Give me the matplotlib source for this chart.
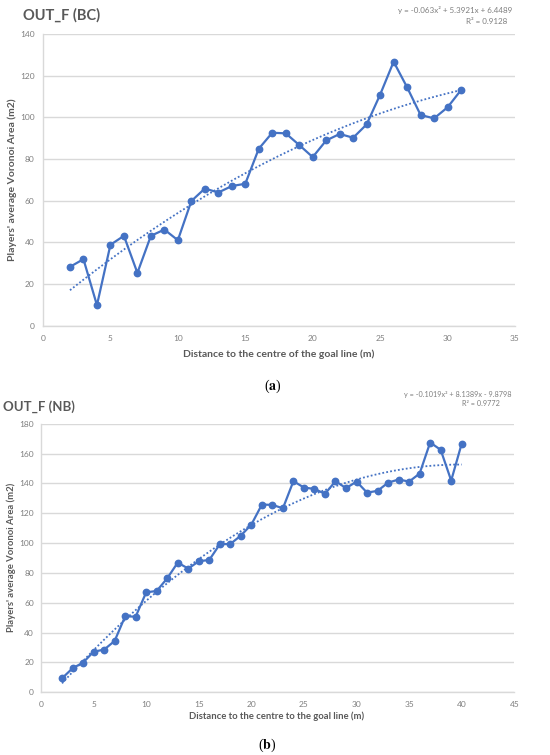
import matplotlib
matplotlib.use("Agg")
import matplotlib.pyplot as plt
import numpy as np

# ---- data ----
bc_x = list(range(2, 32))
bc_y = [28.2, 31.9, 9.8, 38.8, 43.1, 25.3, 43.1, 46.1, 41.0, 59.8,
        65.8, 63.9, 67.0, 68.1, 84.9, 92.6, 92.3, 86.7, 80.9, 88.9,
        92.0, 90.2, 96.6, 110.9, 126.7, 114.4, 101.1, 99.5, 104.8, 113.1]
bc_coef = [-0.063, 5.3921, 6.4489]
bc_eq = "y = -0.063x² + 5.3921x + 6.4489"
bc_r2 = "R² = 0.9128"

nb_x = list(range(2, 41))
nb_y = [9.4, 16.1, 19.9, 27.2, 28.6, 34.4, 50.9, 50.7, 67.0, 67.9,
        76.4, 86.9, 82.9, 87.8, 88.7, 99.2, 99.4, 105.0, 112.4, 125.8,
        125.6, 123.3, 141.5, 137.2, 136.3, 133.0, 141.5, 136.8, 141.2, 133.8,
        135.0, 140.5, 142.6, 141.2, 146.6, 167.4, 162.5, 141.9, 166.7]
nb_coef = [-0.1019, 8.1389, -9.8798]
nb_eq = "y = -0.1019x² + 8.1389x - 9.8798"
nb_r2 = "R² = 0.9772"

plt.rcParams['font.family'] = ['Lato', 'DejaVu Sans']

W, H = 550, 755
fig = plt.figure(figsize=(W / 100, H / 100), dpi=100)

BLUE = "#4472C4"
GRID = "#D9D9D9"
TICK = "#7F7F7F"
LABEL = "#595959"


def px_axes(left, top, right, bottom):
    return fig.add_axes([left / W, 1 - bottom / H, (right - left) / W, (bottom - top) / H])


def style(ax, xmax, ymax, ystep, tick_pad_y, tick_pad_x):
    ax.set_xlim(0, xmax)
    ax.set_ylim(0, ymax)
    ax.set_xticks(np.arange(0, xmax + 1, 5))
    ax.set_yticks(np.arange(0, ymax + 1, ystep))
    ax.yaxis.grid(True, color=GRID, lw=1.0)
    ax.set_axisbelow(True)
    for s in ["top", "right"]:
        ax.spines[s].set_visible(False)
    ax.spines["left"].set_color(GRID)
    ax.spines["bottom"].set_color(GRID)
    ax.spines["left"].set_linewidth(1.0)
    ax.spines["bottom"].set_linewidth(1.0)
    ax.tick_params(axis="both", length=0, labelsize=6, labelcolor=TICK)
    ax.tick_params(axis="y", pad=tick_pad_y)
    ax.tick_params(axis="x", pad=tick_pad_x)


def plot_series(ax, x, y, coef):
    xs = np.linspace(min(x), max(x), 200)
    ax.plot(xs, np.polyval(coef, xs), color=BLUE, lw=1.3, ls=(0, (1, 1.2)))
    ax.plot(x, y, color=BLUE, lw=1.6, marker="o", ms=4.6, zorder=3)


# ---- top chart ----
ax1 = px_axes(43, 34, 515, 325.6)
style(ax1, 35, 140, 20, 6, 7)
plot_series(ax1, bc_x, bc_y, bc_coef)

fig.text(23 / W, 1 - 15 / H, "OUT_F (BC)", fontsize=10.5, fontweight="bold",
         color=LABEL, ha="left", va="center")
fig.text(512 / W, 1 - 10 / H, bc_eq, fontsize=5.8, color=TICK, ha="right", va="center")
fig.text(487 / W, 1 - 22 / H, bc_r2, fontsize=5.8, color=TICK, ha="center", va="center")
fig.text(12 / W, 1 - 180 / H, "Players' average Voronoi Area (m2)", rotation=90,
         fontsize=7.5, fontweight="bold", color=LABEL, ha="center", va="center")
fig.text(279 / W, 1 - 354 / H, "Distance to the centre of the goal line (m)",
         fontsize=7.5, fontweight="bold", color=LABEL, ha="center", va="center")
fig.text(273 / W, 1 - 386 / H, r"($\mathbf{a}$)", fontsize=10, color="black",
         ha="center", va="center", family="Liberation Serif", math_fontfamily="stix")

# ---- bottom chart ----
ax2 = px_axes(41, 423.7, 514.3, 692.3)
style(ax2, 45, 180, 20, 5, 6)
plot_series(ax2, nb_x, nb_y, nb_coef)

fig.text(3 / W, 1 - 407 / H, "OUT_F (NB)", fontsize=9.5, fontweight="bold",
         color=LABEL, ha="left", va="center")
fig.text(512 / W, 1 - 395 / H, nb_eq, fontsize=5.2, color=TICK, ha="right", va="center")
fig.text(481 / W, 1 - 404 / H, nb_r2, fontsize=5.2, color=TICK, ha="center", va="center")
fig.text(11 / W, 1 - 557 / H, "Players' average Voronoi Area (m2)", rotation=90,
         fontsize=6.8, fontweight="bold", color=LABEL, ha="center", va="center")
fig.text(277 / W, 1 - 716 / H, "Distance to the centre to the goal line (m)",
         fontsize=6.8, fontweight="bold", color=LABEL, ha="center", va="center")
fig.text(267 / W, 1 - 745 / H, r"($\mathbf{b}$)", fontsize=10, color="black",
         ha="center", va="center", family="Liberation Serif", math_fontfamily="stix")

fig.savefig("out.png", dpi=100, facecolor="white")
